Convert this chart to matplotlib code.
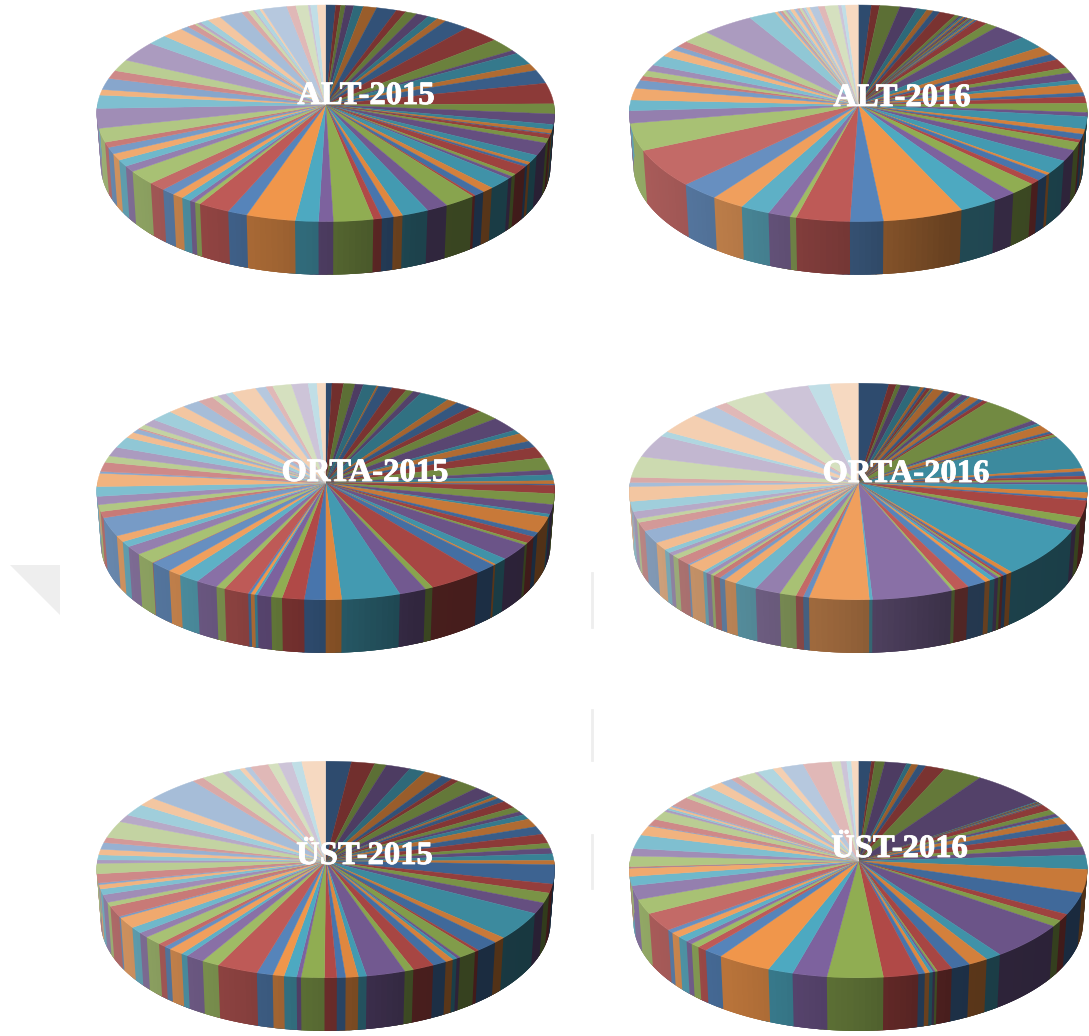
import numpy as np
import matplotlib
matplotlib.use("Agg")
import matplotlib.pyplot as plt
import matplotlib.patheffects as pe

# slice shares in degrees, clockwise from 12 o'clock (90 items per pie)
alt_2015 = [2.5, 1.3, 1.2, 2.1, 2.4, 3.4, 5.1, 2.5, 2.9, 3.2, 2.6, 2.4, 6.4, 9.5, 7.1, 1.9, 6.5, 3.7,
            7.2, 11.1, 5.4, 5.6, 2.8, 2.0, 0.5, 2.2, 2.5, 6.9, 4.0, 1.4, 1.2, 4.7, 1.5, 1.4, 6.4, 3.0,
            2.8, 0.8, 8.0, 5.5, 6.8, 2.4, 3.0, 2.2, 10.1, 3.7, 5.9, 12.5, 5.0, 8.1, 1.5, 1.5, 2.5, 2.9,
            3.5, 4.6, 7.7, 3.3, 3.6, 3.6, 3.6, 2.9, 7.5, 10.6, 7.1, 3.0, 6.1, 4.4, 6.2, 10.8, 5.2, 5.6,
            2.1, 2.1, 0.8, 1.0, 2.2, 3.4, 5.9, 1.7, 1.4, 0.4, 1.3, 0.7, 6.2, 2.3, 3.1, 0.6, 1.7, 2.1]
alt_2016 = [3.3, 2.1, 5.1, 4.3, 2.6, 1.7, 1.8, 4.1, 1.2, 0.5, 0.5, 0.5, 0.5, 0.5, 0.5, 0.5, 0.5, 0.5,
            0.5, 2.9, 3.1, 8.5, 6.8, 4.6, 3.2, 4.8, 2.9, 4.0, 2.3, 4.7, 2.1, 3.6, 4.9, 2.2, 6.7, 2.7,
            3.0, 1.5, 4.3, 6.1, 7.4, 1.2, 3.5, 2.6, 6.6, 6.0, 9.8, 20.5, 8.4, 13.7, 1.6, 5.7, 7.5, 8.4,
            9.9, 21.0, 14.8, 6.7, 5.7, 6.3, 4.5, 2.3, 3.0, 3.3, 5.5, 4.0, 2.2, 3.2, 7.1, 13.3, 6.9, 0.8,
            0.6, 0.7, 0.7, 0.6, 0.7, 1.0, 0.8, 0.6, 0.6, 0.5, 0.6, 0.9, 2.1, 1.7, 3.4, 0.8, 1.0, 3.2]
orta_2015 = [1.6, 2.9, 2.9, 2.1, 3.4, 0.5, 3.5, 3.7, 1.9, 2.1, 7.6, 2.8, 4.0, 3.4, 5.4, 7.8, 2.2, 4.6,
             3.5, 5.9, 6.7, 2.6, 3.2, 1.8, 0.6, 4.5, 5.8, 5.1, 1.6, 8.6, 2.5, 3.6, 1.2, 8.9, 3.7, 0.7,
             5.6, 13.7, 2.0, 6.9, 14.9, 4.0, 5.4, 5.6, 2.8, 3.6, 0.7, 1.0, 0.7, 6.4, 2.3, 5.6, 5.4, 3.6,
             5.8, 0.2, 5.6, 4.7, 3.0, 3.4, 10.1, 3.4, 3.7, 4.4, 5.2, 7.1, 1.0, 5.0, 3.5, 4.9, 5.8, 3.1,
             2.1, 0.7, 2.2, 3.5, 5.8, 4.4, 4.7, 4.0, 1.6, 2.2, 1.8, 6.2, 2.7, 1.7, 4.8, 4.2, 2.2, 2.2]
orta_2016 = [7.7, 1.9, 1.1, 2.4, 2.7, 0.9, 0.7, 1.0, 0.4, 0.2, 0.2, 2.7, 1.8, 1.8, 1.4, 1.9, 0.5, 2.4,
             1.3, 1.4, 14.9, 2.0, 1.3, 4.0, 1.1, 0.8, 1.3, 0.3, 17.6, 1.7, 2.4, 1.8, 1.6, 1.3, 4.1, 3.1,
             1.2, 9.1, 4.0, 3.3, 26.8, 1.6, 1.1, 0.8, 0.8, 1.1, 1.5, 1.5, 4.9, 3.7, 0.9, 20.5, 0.8, 15.2,
             1.5, 1.9, 4.2, 6.6, 5.7, 3.3, 1.6, 1.9, 0.9, 1.5, 1.1, 4.7, 0.6, 3.9, 2.1, 1.7, 2.0, 4.2,
             6.9, 4.7, 2.0, 3.9, 5.4, 7.9, 2.2, 2.8, 11.2, 12.0, 2.7, 11.0, 7.0, 3.4, 11.0, 11.5, 5.5, 7.1]
ust_2015 = [6.5, 5.9, 3.0, 6.2, 4.1, 4.8, 2.9, 2.0, 5.8, 5.3, 1.2, 1.2, 2.3, 3.9, 2.7, 1.9, 2.6, 4.4,
            4.3, 5.0, 2.7, 3.0, 3.5, 2.3, 10.3, 4.8, 5.4, 6.0, 15.1, 3.2, 5.9, 1.1, 4.8, 1.0, 1.2, 2.1,
            3.6, 5.5, 2.3, 9.9, 2.1, 3.2, 2.2, 3.1, 5.9, 1.1, 3.2, 2.9, 4.1, 10.5, 4.5, 4.7, 1.8, 3.8,
            1.8, 2.1, 4.7, 2.8, 3.4, 5.9, 0.8, 5.8, 2.2, 4.2, 3.1, 2.3, 0.9, 4.9, 5.6, 1.8, 2.7, 3.0,
            3.6, 2.9, 8.9, 4.0, 6.3, 4.6, 13.6, 3.0, 5.7, 1.5, 3.1, 1.4, 1.5, 4.6, 2.6, 3.4, 2.5, 6.0]
ust_2016 = [3.3, 0.9, 2.5, 5.5, 1.3, 1.7, 2.0, 4.9, 10.0, 19.1, 0.4, 0.2, 0.2, 0.2, 0.2, 0.2, 0.3, 0.3,
            0.3, 3.3, 2.4, 1.6, 0.6, 3.7, 3.7, 5.4, 3.8, 4.3, 7.7, 12.6, 11.9, 3.7, 3.4, 20.2, 4.1, 5.1,
            4.9, 3.9, 0.6, 0.6, 0.9, 1.2, 1.7, 8.9, 14.2, 8.8, 6.4, 13.8, 4.9, 2.5, 2.4, 1.9, 2.9, 2.8,
            1.8, 9.9, 7.9, 7.5, 4.9, 4.4, 0.2, 0.6, 5.7, 4.1, 7.3, 5.1, 0.4, 3.5, 4.8, 1.1, 0.9, 1.0,
            0.7, 5.3, 1.9, 1.2, 5.1, 3.7, 3.1, 2.0, 4.8, 0.9, 4.1, 2.2, 5.7, 7.2, 2.3, 1.5, 1.2, 1.7]

labels = ["ALT-2015", "ALT-2016", "ORTA-2015", "ORTA-2016", "ÜST-2015", "ÜST-2016"]
series = [alt_2015, alt_2016, orta_2015, orta_2016, ust_2015, ust_2016]

# office palette, repeated over the slices
base_colors = np.array([[79, 129, 189], [192, 80, 77], [155, 187, 89],
                        [128, 100, 162], [75, 172, 198], [247, 150, 70]]) / 255

# pie centres and label baselines in pixels
centers = [(325.7, 113.3), (858.3, 113.3), (325.7, 491.5), (858.3, 491.5), (325.7, 869.5), (858.3, 869.5)]
label_pos = [(366, 104), (902, 106), (365, 481), (906, 482), (364.5, 864), (899.5, 857)]
rx, ry = 229, 108.3
depth = 52
apex_up = 8.5


def slice_color(i, n):
    # dark at the first slice, full colour in the middle, pale at the last
    t = i / (n - 1)
    c = base_colors[i % 6]
    if t < 0.5:
        return c * (0.58 + 0.70 * t)
    c = c * 0.97
    # pale end is a bit greyer than a plain tint
    c = c + (c.mean() - c) * 0.25 * (t - 0.5)
    return c + (1 - c) * (t - 0.5) * 1.3


def wall_shade(s):
    return np.interp(s, [-1, -0.5, 0, 0.4, 1], [0.88, 0.75, 0.6, 0.43, 0.4])


fig = plt.figure(figsize=(10.89, 10.36), dpi=100)
ax = fig.add_axes([0, 0, 1, 1])
ax.set_xlim(0, 1089)
ax.set_ylim(1036, 0)
ax.axis("off")

# faint leftovers of the scanned page behind the pies
ax.fill([10, 60, 60], [565, 565, 615], color="#eeeeee", lw=0)
for y0, y1 in [(573, 627), (710, 760), (835, 888)]:
    ax.plot([591.5, 591.5], [y0, y1], color="#eeeeee", lw=2)

for name, vals, (cx, cy), (tx, ty) in zip(labels, series, centers, label_pos):
    vals = np.array(vals)
    edges = np.concatenate([[0], np.cumsum(vals)]) * 360 / vals.sum()
    n = len(vals)

    # side wall first, strips run on under the next one so no seams show
    for i in range(n):
        a0, a1 = max(edges[i], 85), min(edges[i + 1], 275)
        if a1 <= a0:
            continue
        steps = np.append(np.arange(a0, a1, 1.5), a1)
        col = slice_color(i, n)
        for s0, s1 in zip(steps[:-1], steps[1:]):
            th = np.radians(np.linspace(s0, min(s1 + 3, 275), 6))
            xt = cx + rx * np.sin(th)
            yt = cy - ry * np.cos(th)
            xb = cx + 0.982 * rx * np.sin(th)
            yb = cy + depth - 1.01 * ry * np.cos(th)
            shade = wall_shade(np.sin(np.radians((s0 + s1) / 2)))
            ax.fill(np.r_[xt, xb[::-1]], np.r_[yt, yb[::-1]], color=col * shade, lw=0)

    # top face
    for i in range(n):
        th = np.radians(np.linspace(edges[i], edges[i + 1], max(int(vals[i]), 2) + 1))
        xs = np.r_[cx, cx + rx * np.sin(th)]
        ys = np.r_[cy - apex_up, cy - ry * np.cos(th)]
        ax.fill(xs, ys, color=slice_color(i, n), lw=0.3)

    ax.text(tx, ty, name, color="white", fontsize=23.5, fontweight="bold",
            family="Liberation Serif", ha="center", va="baseline",
            path_effects=[pe.withStroke(linewidth=0.6, foreground="white")])

fig.savefig("out.png", dpi=100)
